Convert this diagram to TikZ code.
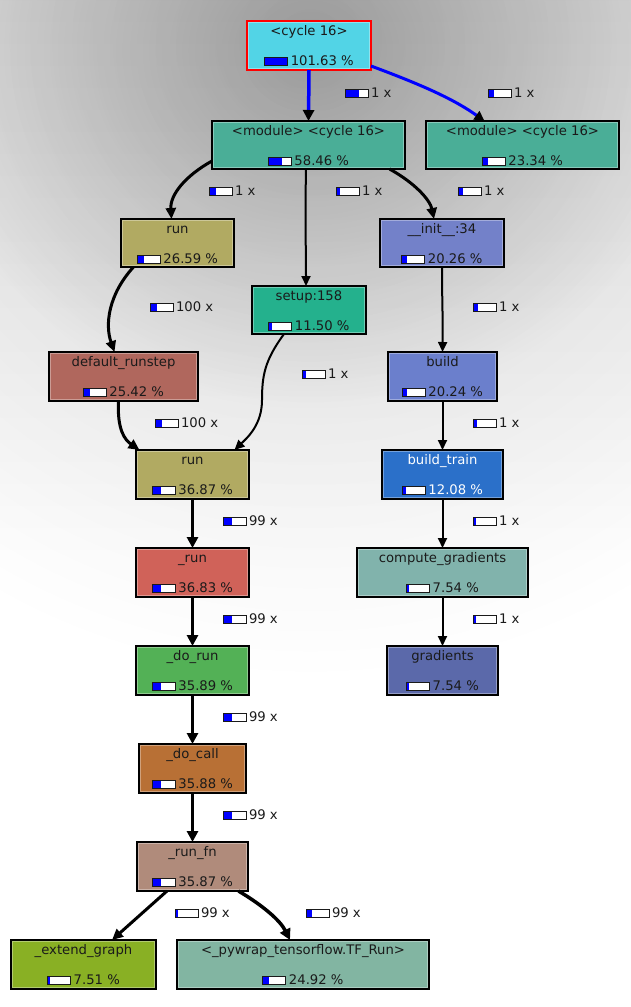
\documentclass[tikz,border=0pt]{standalone}
\usepackage{fontspec}
\setmainfont{DejaVu Sans}
\usetikzlibrary{arrows.meta,fadings}
\tikzfading[name=myfade, inner color=transparent!0, outer color=transparent!100]
\newcommand\pbar[1]{\pgfmathsetlengthmacro\pbw{22*#1/100}\pgfmathsetlengthmacro\pbr{22-22*#1/100}{\setlength\fboxsep{0pt}\setlength\fboxrule{1pt}\fbox{\textcolor{blue}{\rule{\pbw}{7pt}}\textcolor{white}{\rule{\pbr}{7pt}}}}}
\newcommand\gnode[9]{%
  \node[gbox, fill=#6, minimum width={#4-#2}, minimum height={#5-#3}] (#1) at ({(#2+#4)/2},{(#3+#5)/2}) {};
  \draw[white, opacity=0.35, line width=0.8pt] ({#2+1.5},{#3+1.5}) rectangle ({#4-1.5},{#5-1.5});
  \node[gtxt, anchor=base] (#1-t) at ({(#2+#4)/2},{#3+14}) {#7};
  \node[gtxt, anchor=base] (#1-p) at ({(#2+#4)/2},{#3+44}) {\pbar{#9}\hspace{2.5pt}#8};
}
\newcommand\elab[5]{\node[gtxt, anchor=base west] (#1) at (#2,#3) {\pbar{#4}\hspace{2pt}#5};}
\definecolor{cCyc}{HTML}{52D4E6}
\definecolor{cMod}{HTML}{4AAE97}
\definecolor{cRun}{HTML}{B1AA62}
\definecolor{cInit}{HTML}{7381C9}
\definecolor{cSetup}{HTML}{24B18D}
\definecolor{cDef}{HTML}{B0675D}
\definecolor{cBuild}{HTML}{6B7FCC}
\definecolor{cBT}{HTML}{2B70C9}
\definecolor{cURun}{HTML}{D06259}
\definecolor{cComp}{HTML}{81B3AC}
\definecolor{cDoRun}{HTML}{53B156}
\definecolor{cGrad}{HTML}{5B69AA}
\definecolor{cDoCall}{HTML}{B87035}
\definecolor{cRunFn}{HTML}{B08B7B}
\definecolor{cExt}{HTML}{89B024}
\definecolor{cTF}{HTML}{82B5A2}
\definecolor{ctext}{HTML}{1A1A1A}
\begin{document}
\begin{tikzpicture}[x=1pt,y=-1pt,
  gbox/.style={rectangle, draw=black, line width=1.2pt, inner sep=0pt, outer sep=0pt},
  gtxt/.style={inner sep=0pt, outer sep=0pt, text=ctext, font=\fontsize{13.2}{15}\selectfont},
  edge/.style={draw=black, line width=2pt, -{Triangle[length=10pt,width=9pt]}},
  tedge/.style={draw=black, line width=3pt, -{Triangle[length=11pt,width=10pt]}},
  xedge/.style={draw=black, line width=3.5pt, -{Triangle[length=11pt,width=11pt]}},
  bedge/.style={draw=blue, line width=3.5pt, -{Triangle[length=11pt,width=11pt,color=black]}},
  bedgeb/.style={draw=blue, line width=3pt, -{Triangle[length=10pt,width=10pt,color=black]}}]
\useasboundingbox (0,0) rectangle (631,1007);
% background
\fill[white] (0,0) rectangle (631,1007);
\shade[top color=black!10, bottom color=white] (0,0) rectangle (631,560);
\fill[black, opacity=0.12, path fading=myfade] (310,40) ellipse [x radius=640, y radius=640];
\fill[black, opacity=0.24, path fading=myfade] (310,50) ellipse [x radius=400, y radius=360];

% nodes
\gnode{cyc}{247}{21}{371}{70}{cCyc}{<cycle 16>}{101.63 \%}{100}
\draw[red, line width=1.2pt] (cyc.south west) rectangle (cyc.north east);
\gnode{mod1}{212}{121}{405}{169}{cMod}{<module> <cycle 16>}{58.46 \%}{58.46}
\gnode{mod2}{426}{121}{619}{169}{cMod}{<module> <cycle 16>}{23.34 \%}{23.34}
\gnode{runa}{121}{219}{234}{267}{cRun}{run}{26.59 \%}{26.59}
\gnode{init}{380}{219}{504}{267}{cInit}{\_\_init\_\_:34}{20.26 \%}{20.26}
\gnode{setup}{252}{286}{366}{334}{cSetup}{setup:158}{11.50 \%}{11.50}
\gnode{defr}{49}{352}{198}{401}{cDef}{default\_runstep}{25.42 \%}{25.42}
\gnode{build}{388}{352}{497}{401}{cBuild}{build}{20.24 \%}{20.24}
\gnode{runb}{136}{450}{249}{499}{cRun}{run}{36.87 \%}{36.87}
\gnode{bt}{382}{450}{503}{499}{cBT}{\textcolor{white}{build\_train}}{\textcolor{white}{12.08 \%}}{12.08}
\gnode{urun}{136}{548}{249}{597}{cURun}{\_run}{36.83 \%}{36.83}
\gnode{comp}{357}{548}{528}{597}{cComp}{compute\_gradients}{7.54 \%}{7.54}
\gnode{dorun}{136}{646}{249}{695}{cDoRun}{\_do\_run}{35.89 \%}{35.89}
\gnode{grad}{387}{646}{498}{695}{cGrad}{gradients}{7.54 \%}{7.54}
\gnode{docall}{139}{744}{246}{793}{cDoCall}{\_do\_call}{35.88 \%}{35.88}
\gnode{runfn}{137}{842}{248}{891}{cRunFn}{\_run\_fn}{35.87 \%}{35.87}
\gnode{ext}{11}{940}{156}{989}{cExt}{\_extend\_graph}{7.51 \%}{7.51}
\gnode{tf}{177}{940}{429}{989}{cTF}{<\_pywrap\_tensorflow.TF\_Run>}{24.92 \%}{24.92}

% edges
\draw[bedge] (cyc.south) -- (mod1.north);
\draw[bedgeb] ([yshift=4pt]cyc.south east) .. controls (425,86) and (455,100) .. ([xshift=-38pt]mod2.north);
\draw[tedge] ([yshift=8pt]mod1.south west) .. controls (185,176) and (170,195) .. ([xshift=-6pt]runa.north);
\draw[edge] ([xshift=-2.5pt]mod1.south) .. controls (305,220) and (306,250) .. ([xshift=-3pt]setup.north);
\draw[tedge] ([xshift=81pt]mod1.south) .. controls (415,183) and (430,200) .. ([xshift=-8pt]init.north);
\draw[tedge] ([xshift=-44pt]runa.south) .. controls (108,295) and (105,325) .. ([xshift=-9pt]defr.north);
\draw[edge] ([xshift=-0pt]init.south) .. controls (442,300) and (443,320) .. ([xshift=0pt]build.north);
\draw[edge] ([xshift=-25pt]setup.south) .. controls (265,360) and (262,375) .. (262,400) .. controls (262,425) and (247,438) .. ([xshift=42pt]runb.north);
\draw[tedge] ([xshift=-5pt]defr.south) .. controls (117,430) and (125,440) .. ([xshift=-53pt]runb.north);
\draw[edge] (build.south) -- (bt.north);
\draw[xedge] (runb.south) -- (urun.north);
\draw[edge] (bt.south) -- (comp.north -| bt.south);
\draw[xedge] (urun.south) -- (dorun.north);
\draw[edge] (comp.south -| bt.south) -- (grad.north -| bt.south);
\draw[xedge] (dorun.south) -- (docall.north);
\draw[xedge] (docall.south) -- (runfn.north);
\draw[tedge] ([xshift=-25.5pt]runfn.south) -- ([xshift=28.5pt]ext.north);
\draw[xedge] ([xshift=46pt]runfn.south) .. controls (262,905) and (280,920) .. ([xshift=-13pt]tf.north);

% edge labels
\elab{l1}{345}{97}{58.46}{1 x}
\elab{l2}{488}{97}{23.34}{1 x}
\elab{l3}{209}{195}{26.59}{1 x}
\elab{l4}{336}{195}{11.50}{1 x}
\elab{l5}{458}{195}{20.26}{1 x}
\elab{l6}{150}{311}{25.42}{100 x}
\elab{l7}{473}{311}{20.24}{1 x}
\elab{l8}{302}{378}{11.50}{1 x}
\elab{l9}{155}{427}{25.42}{100 x}
\elab{l10}{473}{427}{12.08}{1 x}
\elab{l11}{223}{525}{36.83}{99 x}
\elab{l12}{473}{525}{7.54}{1 x}
\elab{l13}{223}{623}{35.89}{99 x}
\elab{l14}{473}{623}{7.54}{1 x}
\elab{l15}{223}{721}{35.88}{99 x}
\elab{l16}{223}{819}{35.87}{99 x}
\elab{l17}{175}{917}{7.51}{99 x}
\elab{l18}{306}{917}{24.92}{99 x}
\end{tikzpicture}
\end{document}
